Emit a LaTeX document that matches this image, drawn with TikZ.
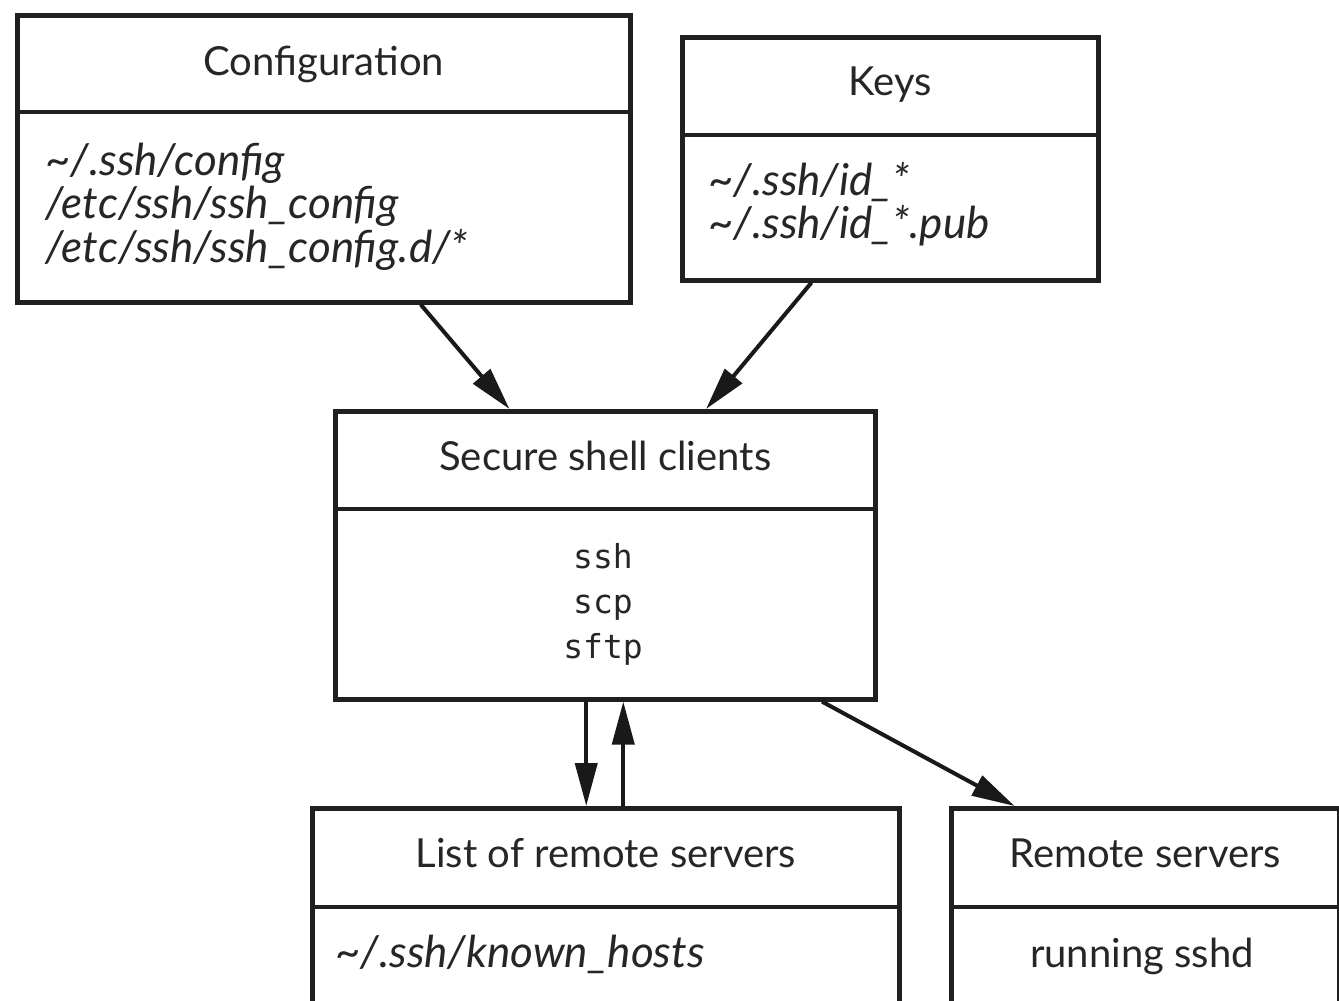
\documentclass[tikz,border=0pt]{standalone}
\usepackage{fontspec}
\setmainfont{Lato}
\setmonofont{DejaVu Sans Mono}
\usetikzlibrary{calc,arrows.meta}
\begin{document}
\begin{tikzpicture}[x=1pt,y=-1pt,
  box/.style={draw=black!88, line width=4.6pt, rectangle, inner sep=0pt, anchor=north west},
  divider/.style={draw=black!88, line width=4.6pt},
  title/.style={font=\fontsize{40}{46}\selectfont, anchor=base, text=black!85, inner sep=0pt},
  body/.style={font=\fontsize{44}{50}\selectfont\itshape, anchor=base west, text=black!85, inner sep=0pt},
  mono/.style={font=\fontsize{33}{44}\selectfont\ttfamily, anchor=base, text=black!85, inner sep=0pt},
  arr/.style={draw=black!90, line width=4pt, -{Triangle[length=43pt,width=22pt]}}]
\useasboundingbox (0,0) rectangle (1339,1001);
\clip (0,0) rectangle (1339,1001);
\fill[white] (0,0) rectangle (1339,1001);

% boxes
\node[box, minimum width=613pt, minimum height=287pt] (conf) at (15,13) {};
\node[box, minimum width=416pt, minimum height=243pt] (keys) at (680,35) {};
\node[box, minimum width=540pt, minimum height=288pt] (ssc) at (333,409) {};
\node[box, minimum width=587pt, minimum height=300pt] (list) at (310,806) {};
\node[box, minimum width=388pt, minimum height=300pt] (remote) at (949,806) {};

% dividers
\draw[divider] ($(conf.north west)+(0,99)$) -- ($(conf.north east)+(0,99)$);
\draw[divider] ($(keys.north west)+(0,100)$) -- ($(keys.north east)+(0,100)$);
\draw[divider] ($(ssc.north west)+(0,100)$) -- ($(ssc.north east)+(0,100)$);
\draw[divider] ($(list.north west)+(0,101)$) -- ($(list.north east)+(0,101)$);
\draw[divider] ($(remote.north west)+(0,101)$) -- ($(remote.north east)+(0,101)$);

% titles
\node[title] (conft) at ($(conf.north)+(0,62)$) {Configuration};
\node[title] (keyst) at ($(keys.north)+(0,60)$) {Keys};
\node[title] (ssct) at ($(ssc.north)+(0,61)$) {Secure shell clients};
\node[title] (listt) at ($(list.north)+(0,61)$) {List of remote servers};
\node[title] (remt) at ($(remote.north)+(0,61)$) {Remote servers};

% bodies
\node[body] (c1) at (45,175) {\textasciitilde/.ssh/config};
\node[body] (c2) at (45,218) {/etc/ssh/ssh\_config};
\node[body] (c3) at (45,262) {/etc/ssh/ssh\_config.d/*};
\node[body] (k1) at (708,195) {\textasciitilde/.ssh/id\_*};
\node[body] (k2) at (708,238) {\textasciitilde/.ssh/id\_*.pub};
\node[mono] (m1) at (603,568) {ssh};
\node[mono] (m2) at (603,613) {scp};
\node[mono] (m3) at (603,658) {sftp};
\node[body] (l1) at (335,967) {\textasciitilde/.ssh/known\_hosts};
\node[title] (r1) at (1142,967) {running sshd};

% connector end points
\coordinate (confout) at ($(conf.south west)!0.657!(conf.south east)$);
\coordinate (sscin1) at ($(ssc.north west)!0.324!(ssc.north east)$);
\coordinate (keysout) at ($(keys.south west)!0.3125!(keys.south east)$);
\coordinate (sscin2) at ($(ssc.north west)!0.685!(ssc.north east)$);
\coordinate (sscdown) at ($(ssc.south west)!0.465!(ssc.south east)$);
\coordinate (sscup) at ($(ssc.south west)!0.533!(ssc.south east)$);
\coordinate (sscout) at ($(ssc.south west)!0.898!(ssc.south east)$);
\coordinate (remin) at ($(remote.north west)!0.167!(remote.north east)$);

% connectors
\draw[arr] (confout) -- (sscin1);
\draw[arr] (keysout) -- (sscin2);
\draw[arr] (sscdown) -- (sscdown |- list.north);
\draw[arr] (sscup |- list.north) -- (sscup);
\draw[arr] (sscout) -- (remin);
\end{tikzpicture}
\end{document}
